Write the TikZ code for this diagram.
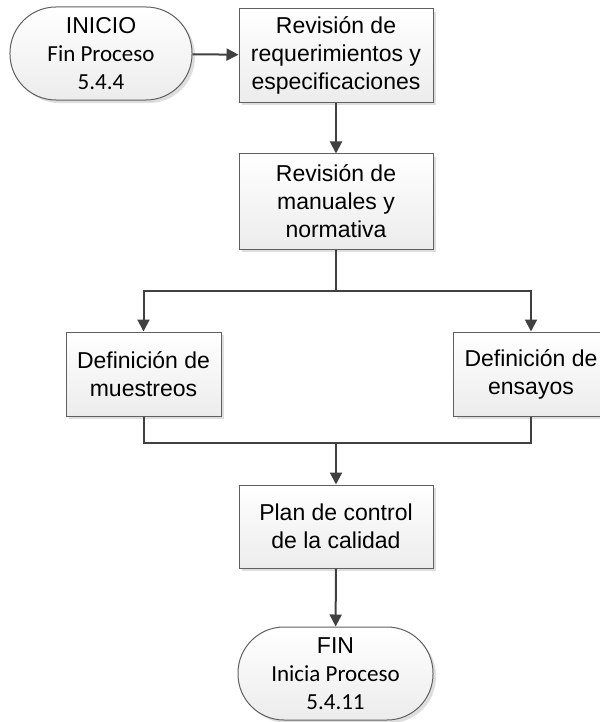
\documentclass[tikz,border=0pt]{standalone}
\usepackage{fontspec}
\setmainfont{Liberation Sans}
\newfontfamily\calibri{Carlito}
\usetikzlibrary{arrows.meta,shadows}

\definecolor{linecol}{RGB}{64,64,64}
\definecolor{bordercol}{RGB}{96,96,96}
\definecolor{shadecol}{RGB}{222,222,222}
\definecolor{fillbot}{RGB}{236,236,236}

\tikzset{
  base/.style={draw=bordercol, line width=1bp, top color=white, bottom color=fillbot,
    drop shadow={shadow xshift=3bp, shadow yshift=-3bp, fill=shadecol, opacity=1},
    align=center, inner sep=0pt, text=black,
    font=\fontsize{23bp}{28bp}\selectfont},
  process/.style={base, rectangle},
  terminal/.style={base, rectangle, rounded corners=46bp},
  flow/.style={draw=linecol, line width=2bp, -{Triangle[length=12bp,width=12bp]}},
  plain/.style={draw=linecol, line width=2bp},
}

\begin{document}
\begin{tikzpicture}[x=1bp, y=-1bp]
  \useasboundingbox (0,0) rectangle (600,722);

  % start / end terminators
  \node[terminal, minimum width=182bp, minimum height=93bp] (ini) at (101,53.5)
    {INICIO\\{\calibri Fin Proceso}\\{\calibri 5.4.4}};
  \node[terminal, minimum width=195bp, minimum height=93bp] (fin) at (335.5,673.5)
    {FIN\\{\calibri Inicia Proceso}\\{\calibri 5.4.11}};

  % process steps
  \node[process, minimum width=194bp, minimum height=93bp] (req) at (336,55.5)
    {Revisión de\\requerimientos y\\especificaciones};
  \node[process, minimum width=194bp, minimum height=95bp] (man) at (336,201.5)
    {Revisión de\\manuales y\\normativa};
  \node[process, minimum width=155bp, minimum height=84bp] (mue) at (143.5,374)
    {Definición de\\muestreos};
  \node[process, minimum width=155bp, minimum height=84bp] (ens) at (531,374)
    {Definición de\\ensayos};
  \node[process, minimum width=194bp, minimum height=83bp] (plan) at (336,526.5)
    {Plan de control\\de la calidad};

  % branch points
  \coordinate (split) at (336,291);
  \coordinate (merge) at (336,443);

  % connectors
  \draw[flow] (ini) -- (req);
  \draw[flow] (req) -- (man);
  \draw[plain] (man) -- (split);
  \draw[flow] (split) -| (mue);
  \draw[flow] (split) -| (ens);
  \draw[plain] (mue) |- (merge);
  \draw[plain] (ens) |- (merge);
  \draw[flow] (merge) -- (plan);
  \draw[flow] (plan) -- (fin);
\end{tikzpicture}
\end{document}
